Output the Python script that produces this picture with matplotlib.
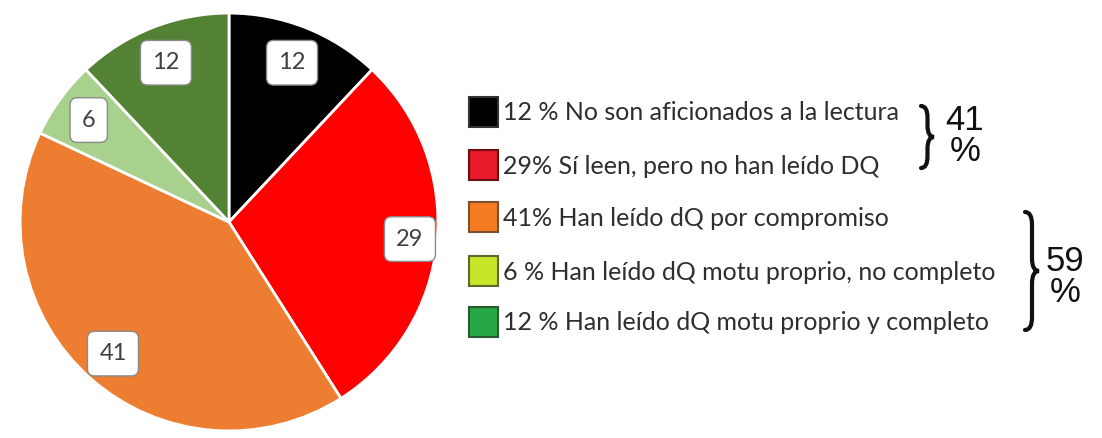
import matplotlib.pyplot as plt
import numpy as np
from matplotlib.patches import Rectangle, PathPatch
from matplotlib.path import Path

# survey shares (percent), clockwise from 12 o'clock
values = [12, 29, 41, 6, 12]
slice_colors = ['#000000', '#FF0000', '#ED7D31', '#A9D18E', '#548235']
legend_colors = ['#000000', '#E8192A', '#F47B20', '#C6E62A', '#27A844']
legend_edges = ['#333333', '#6A1010', '#7A5030', '#5A6A30', '#2A5A30']
legend_labels = [
    '12 % No son aficionados a la lectura',
    '29% Sí leen, pero no han leído DQ',
    '41% Han leído dQ por compromiso',
    '6 % Han leído dQ motu proprio, no completo',
    '12 % Han leído dQ motu proprio y completo',
]
group_totals = ['41\n%', '59\n%']

W, H = 1102, 438
fig = plt.figure(figsize=(W / 100, H / 100), dpi=100)

# pie
ax = fig.add_axes([18 / W, 5 / H, 422 / W, 422 / H])
wedges, _ = ax.pie(values, colors=slice_colors, startangle=90, counterclock=False,
                   wedgeprops=dict(edgecolor='white', linewidth=2))
ax.set_xlim(-1.01, 1.01)
ax.set_ylim(-1.01, 1.01)
ax.set_aspect('equal')
ax.axis('off')

label_dist = [0.82, 0.87, 0.84, 0.83, 0.82]
for w, v, d in zip(wedges, values, label_dist):
    ang = np.deg2rad((w.theta1 + w.theta2) / 2)
    ax.text(d * np.cos(ang), d * np.sin(ang), str(v), ha='center', va='center',
            fontsize=17, family='Lato', color='#404040',
            bbox=dict(boxstyle='round,pad=0.5,rounding_size=0.3', fc='white',
                      ec='#8A8A8A', lw=1))

# legend + braces in pixel coordinates
ov = fig.add_axes([0, 0, 1, 1])
ov.set_xlim(0, W)
ov.set_ylim(H, 0)
ov.axis('off')

rows = [112, 165, 217, 271, 322]
for y, fc, ec, lab in zip(rows, legend_colors, legend_edges, legend_labels):
    ov.add_patch(Rectangle((469, y - 15), 29, 30, fc=fc, ec=ec, lw=1.5))
    ov.text(503, y + 1, lab, ha='left', va='center', fontsize=18, family='Lato',
            color='#2E2E2E')


def brace(x, y0, y1, w):
    # curly brace opening to the left, tip pointing right
    ym = (y0 + y1) / 2
    xm = x + w / 2
    c = w * 0.9
    verts = [(x, y0), (xm, y0), (xm, y0 + c), (xm, ym - c),
             (xm, ym), (x + w, ym),
             (xm, ym), (xm, ym + c), (xm, y1 - c), (xm, y1), (x, y1)]
    codes = [Path.MOVETO, Path.CURVE3, Path.CURVE3, Path.LINETO,
             Path.CURVE3, Path.CURVE3,
             Path.CURVE3, Path.CURVE3, Path.LINETO, Path.CURVE3, Path.CURVE3]
    ov.add_patch(PathPatch(Path(verts, codes), fc='none', ec='#111111', lw=3,
                           capstyle='round'))


brace(921, 106, 168, 13)
brace(1025, 212, 330, 14)

ov.text(965, 136, group_totals[0], ha='center', va='center', fontsize=25,
        family='Liberation Sans', linespacing=0.92, color='#111111')
ov.text(1065, 277, group_totals[1], ha='center', va='center', fontsize=25,
        family='Liberation Sans', linespacing=0.92, color='#111111')

fig.savefig('out.png', dpi=100, facecolor='white')
